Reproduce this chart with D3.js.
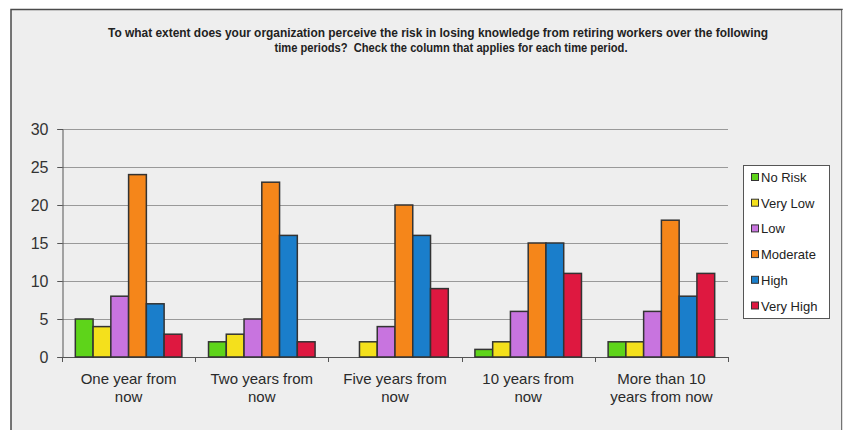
<!DOCTYPE html>
<html>
<head>
<meta charset="utf-8">
<script src="https://cdn.jsdelivr.net/npm/d3@7"></script>
<style>
  html, body { margin: 0; padding: 0; background: #ffffff; }
  svg { display: block; }
</style>
</head>
<body>
<svg id="chart" width="843" height="430"></svg>
<script>
// Survey responses per time period
const categories = [
  ["One year from", "now"],
  ["Two years from", "now"],
  ["Five years from", "now"],
  ["10 years from", "now"],
  ["More than 10", "years from now"]
];
const seriesNames = ["No Risk", "Very Low", "Low", "Moderate", "High", "Very High"];
const seriesColors = ["#5ed41a", "#f4e01c", "#c874df", "#f5861a", "#1a7ecb", "#de1840"];
const noRisk   = [5, 2, 0, 1, 2];
const veryLow  = [4, 3, 2, 2, 2];
const low      = [8, 5, 4, 6, 6];
const moderate = [24, 23, 20, 15, 18];
const high     = [7, 16, 16, 15, 8];
const veryHigh = [3, 2, 9, 11, 11];
const yTicks = [0, 5, 10, 15, 20, 25, 30];
const titleLines = [
  "To what extent does your organization perceive the risk in losing knowledge from retiring workers over the following",
  "time periods?  Check the column that applies for each time period."
];

const seriesValues = [noRisk, veryLow, low, moderate, high, veryHigh];

const svg = d3.select("#chart");

// panel
svg.append("rect")
  .attr("x", 11).attr("y", 9.5)
  .attr("width", 831).attr("height", 440)
  .attr("fill", "#eeeeee")
  .attr("stroke", "#4a4a4a").attr("stroke-width", 1.5);
svg.append("line")
  .attr("x1", 842.5).attr("x2", 842.5).attr("y1", 10).attr("y2", 430)
  .attr("stroke", "#dddddd");

// title
const title = svg.append("text")
  .attr("font-family", "'Liberation Sans Narrow', 'Arial Narrow', 'Liberation Sans', sans-serif")
  .attr("font-weight", "bold")
  .attr("font-size", 12.5)
  .attr("fill", "#222222")
  .attr("text-anchor", "middle")
  .style("white-space", "pre");
title.append("tspan").attr("x", 438).attr("y", 37).text(titleLines[0])
  .attr("textLength", 660).attr("lengthAdjust", "spacingAndGlyphs");
title.append("tspan").attr("x", 451).attr("y", 52).text(titleLines[1])
  .attr("textLength", 353).attr("lengthAdjust", "spacingAndGlyphs");

const plotLeft = 62, plotRight = 728, plotTop = 129, plotBottom = 357;

const x0 = d3.scaleBand()
  .domain(d3.range(categories.length))
  .range([plotLeft, plotRight])
  .paddingInner(0.2)
  .paddingOuter(0.1);
const x1 = d3.scaleBand()
  .domain(d3.range(seriesNames.length))
  .range([0, x0.bandwidth()]);
const y = d3.scaleLinear().domain([0, 30]).range([plotBottom, plotTop]);

// gridlines
svg.append("g")
  .selectAll("line")
  .data(yTicks)
  .join("line")
  .attr("x1", plotLeft - 5).attr("x2", plotRight)
  .attr("y1", d => Math.round(y(d)) + 0.5).attr("y2", d => Math.round(y(d)) + 0.5)
  .attr("stroke", "#999999").attr("stroke-width", 1);

// y axis
const yAxis = svg.append("g")
  .attr("transform", `translate(${plotLeft + 0.5},0)`)
  .call(d3.axisLeft(y).tickValues(yTicks).tickSize(5).tickPadding(9));
yAxis.select(".domain").attr("stroke", "#555555");
yAxis.selectAll(".tick line").attr("stroke", "#555555");
yAxis.selectAll("text")
  .attr("font-family", "'Liberation Sans', Arial, sans-serif")
  .attr("font-size", 16)
  .attr("fill", "#333333");

// x axis with boundary ticks
const xStep = (plotRight - plotLeft) / categories.length;
svg.append("line")
  .attr("x1", plotLeft).attr("x2", plotRight)
  .attr("y1", plotBottom + 0.5).attr("y2", plotBottom + 0.5)
  .attr("stroke", "#555555");
svg.append("g")
  .selectAll("line")
  .data(d3.range(categories.length + 1))
  .join("line")
  .attr("x1", i => Math.round(plotLeft + i * xStep) + 0.5)
  .attr("x2", i => Math.round(plotLeft + i * xStep) + 0.5)
  .attr("y1", plotBottom).attr("y2", plotBottom + 5)
  .attr("stroke", "#555555");

// category labels
svg.append("g")
  .selectAll("text")
  .data(categories)
  .join("text")
  .attr("font-family", "'Liberation Sans', Arial, sans-serif")
  .attr("font-size", 15)
  .attr("fill", "#2a2a2a")
  .attr("text-anchor", "middle")
  .each(function(lines, i) {
    const cx = x0(i) + x0.bandwidth() / 2;
    d3.select(this).selectAll("tspan")
      .data(lines)
      .join("tspan")
      .attr("x", cx)
      .attr("y", (d, j) => 384 + j * 18)
      .text(d => d);
  });

// bars
const groups = svg.append("g")
  .selectAll("g")
  .data(categories.map((c, i) => i))
  .join("g")
  .attr("transform", i => `translate(${x0(i)},0)`);

groups.selectAll("rect")
  .data(i => seriesValues.map((vals, s) => ({ s, v: vals[i] })).filter(d => d.v > 0))
  .join("rect")
  .attr("x", d => x1(d.s))
  .attr("width", x1.bandwidth())
  .attr("y", d => y(d.v))
  .attr("height", d => y(0) - y(d.v))
  .attr("fill", d => seriesColors[d.s])
  .attr("stroke", "#333333")
  .attr("stroke-width", 1.5);

// legend
const legend = svg.append("g");
legend.append("rect")
  .attr("x", 743.5).attr("y", 165.5)
  .attr("width", 86).attr("height", 153)
  .attr("fill", "#ffffff")
  .attr("stroke", "#555555");
const items = legend.selectAll("g.item")
  .data(seriesNames)
  .join("g")
  .attr("class", "item")
  .attr("transform", (d, i) => `translate(751, ${177 + i * 25.7})`);
items.append("rect")
  .attr("x", 0.5).attr("y", -3.5)
  .attr("width", 7).attr("height", 7)
  .attr("fill", (d, i) => seriesColors[i])
  .attr("stroke", "#333333");
items.append("text")
  .attr("x", 10).attr("y", 5)
  .attr("font-family", "'Liberation Sans', Arial, sans-serif")
  .attr("font-size", 13)
  .attr("fill", "#222222")
  .text(d => d);
</script>
</body>
</html>
